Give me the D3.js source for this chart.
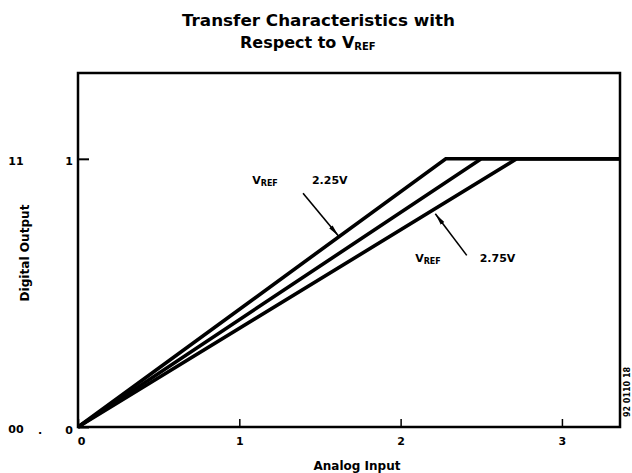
<!DOCTYPE html>
<html><head><meta charset="utf-8">
<script src="https://cdn.jsdelivr.net/npm/d3@7/dist/d3.min.js"></script>
<style>
body{margin:0;background:#fff;}
svg{display:block;font-family:"DejaVu Sans",sans-serif;font-weight:bold;}
</style></head><body>
<svg id="c" width="632" height="473"></svg>
<script>
// ---- data ----
const vrefKinks = [2.28, 2.50, 2.72];          // analog input where each line reaches full scale
const fullScale = 1;
const xMax = 3.36, yMax = 1.32;
const xTicks = [0, 1, 2, 3];
const xTickLabels = ["0", "1", "2", "3"];
const yTicks = [0, 1];
const yTickLabels = ["0", "1"];
const yOuterLabels = ["00", "11"];
const annotations = [
  {name: "V", sub: "REF", value: "2.25V", from: [1.395, 0.872], to: [1.615, 0.712], lx: 1.08, ly: 0.905, vx: 1.45},
  {name: "V", sub: "REF", value: "2.75V", from: [2.41, 0.64], to: [2.215, 0.795], lx: 2.09, ly: 0.615, vx: 2.49}
];

const FONT = "DejaVu Sans, sans-serif";
const svg = d3.select("#c");
const m = {left: 78, right: 12, top: 73, bottom: 46};
const W = 632, H = 473;
const x = d3.scaleLinear().domain([0, xMax]).range([m.left, W - m.right]);
const y = d3.scaleLinear().domain([0, yMax]).range([H - m.bottom, m.top]);

// frame
svg.append("rect").attr("x", x(0)).attr("y", y(yMax))
  .attr("width", x(xMax) - x(0)).attr("height", y(0) - y(yMax))
  .attr("fill", "none").attr("stroke", "#000").attr("stroke-width", 2.5);

// axes
const xa = svg.append("g").attr("transform", `translate(0,${y(0)})`)
  .call(d3.axisBottom(x).tickValues(xTicks).tickSize(-8).tickPadding(10)
    .tickFormat((d, i) => xTickLabels[i]));
xa.select(".domain").remove();
xa.selectAll("line").attr("stroke-width", 1.5);
xa.selectAll("text").attr("font-size", 11).attr("font-weight", "bold").attr("font-family", FONT).attr("fill", "#000")
  .attr("dx", (d, i) => i === 0 ? 3 : 0);

const ya = svg.append("g").attr("transform", `translate(${x(0)},0)`)
  .call(d3.axisLeft(y).tickValues(yTicks).tickSize(-11).tickPadding(5)
    .tickFormat((d, i) => yTickLabels[i]));
ya.select(".domain").remove();
ya.selectAll("line").attr("stroke-width", 2);
ya.selectAll("text").attr("font-size", 11).attr("font-weight", "bold").attr("font-family", FONT).attr("fill", "#000").attr("dy", "0.55em");

// outer code labels
svg.selectAll(".outer").data(yTicks).join("text")
  .attr("x", 16).attr("y", d => y(d)).attr("dy", "0.55em")
  .attr("text-anchor", "middle").attr("font-size", 11).text((d, i) => yOuterLabels[i]);
svg.append("text").attr("x", 40).attr("y", y(0)).attr("dy", "0.6em")
  .attr("text-anchor", "middle").attr("font-size", 11).text(".");

// transfer lines
const line = d3.line().x(d => x(d[0])).y(d => y(d[1]));
svg.selectAll(".tl").data(vrefKinks).join("path")
  .attr("d", k => line([[0, 0], [k, fullScale], [xMax, fullScale]]))
  .attr("fill", "none").attr("stroke", "#000").attr("stroke-width", 3.6)
  .attr("stroke-linejoin", "miter");

// arrows
const defs = svg.append("defs");
defs.append("marker").attr("id", "ah").attr("viewBox", "0 0 12 6")
  .attr("refX", 12).attr("refY", 3).attr("markerWidth", 12).attr("markerHeight", 6)
  .attr("markerUnits", "userSpaceOnUse").attr("orient", "auto")
  .append("path").attr("d", "M0,0.8 L12,3 L0,5.2 Z").attr("fill", "#000");

annotations.forEach(a => {
  svg.append("line")
    .attr("x1", x(a.from[0])).attr("y1", y(a.from[1]))
    .attr("x2", x(a.to[0])).attr("y2", y(a.to[1]))
    .attr("stroke", "#000").attr("stroke-width", 1.6).attr("marker-end", "url(#ah)");
  const t = svg.append("text").attr("x", x(a.lx)).attr("y", y(a.ly)).attr("font-size", 11);
  t.append("tspan").text(a.name);
  t.append("tspan").attr("font-size", 8).attr("dy", 2).text(a.sub);
  svg.append("text").attr("x", x(a.vx)).attr("y", y(a.ly)).attr("font-size", 11).text(a.value);
});

// title
svg.append("text").attr("x", 182).attr("y", 26).attr("font-size", 16.6)
  .attr("textLength", 273).attr("lengthAdjust", "spacingAndGlyphs")
  .text("Transfer Characteristics with");
const t2 = svg.append("text").attr("x", 240).attr("y", 48).attr("font-size", 16);
t2.append("tspan").text("Respect to V");
t2.append("tspan").attr("font-size", 10).attr("dy", 2).text("REF");

// axis titles
svg.append("text").attr("x", 357).attr("y", 470).attr("text-anchor", "middle")
  .attr("font-size", 11.7).attr("textLength", 87).attr("lengthAdjust", "spacingAndGlyphs").text("Analog Input");
svg.append("text").attr("transform", "translate(29,253) rotate(-90)").attr("text-anchor", "middle")
  .attr("font-size", 12).attr("textLength", 97).attr("lengthAdjust", "spacingAndGlyphs").text("Digital Output");

// side code
svg.append("text").attr("transform", "translate(630,392) rotate(-90)").attr("text-anchor", "middle")
  .attr("font-size", 8).text("92 0110 18");
</script>
</body></html>
